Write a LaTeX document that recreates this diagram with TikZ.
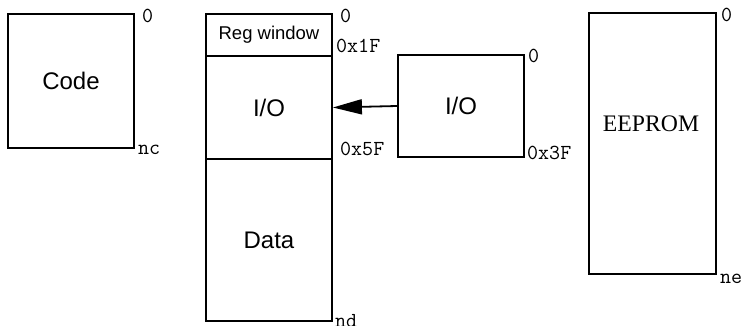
\documentclass[tikz,border=0pt]{standalone}
\usepackage{fontspec}
\setmainfont{Liberation Sans}
\newfontfamily\eepromfont{Liberation Serif}
\usetikzlibrary{arrows.meta}
\begin{document}
\begin{tikzpicture}[x=1pt,y=-1pt,
  box/.style={draw=black, line width=1.8pt, rectangle, inner sep=0pt, font=\fontsize{24}{28}\selectfont},
  lbl/.style={inner sep=0pt, anchor=base west, font=\ttfamily\fontsize{21.4}{24}\selectfont},
  arr/.style={line width=1.8pt, -{Triangle[length=29pt,width=15pt]}}]
\useasboundingbox (0,0) rectangle (744,326);
% Code
\node[box, minimum width=126pt, minimum height=134pt] (code) at (71,81) {Code};
\node[lbl] (c0) at (142,23) {0};
\node[lbl] (cnc) at (138,154) {nc};
% main memory
\node[box, minimum width=126pt, minimum height=42pt, font=\fontsize{18.5}{22}\selectfont] (reg) at (269,35) {Reg window};
\node[box, minimum width=126pt, minimum height=103pt] (io) at (269,107.5) {I/O};
\node[box, minimum width=126pt, minimum height=162pt] (data) at (269,240) {Data};
\node[lbl] (m0) at (340,23) {0};
\node[lbl] (m1f) at (336,53) {0x1F};
\node[lbl] (m5f) at (340,155) {0x5F};
\node[lbl] (mnd) at (335,327) {nd};
% small IO
\node[box, minimum width=126pt, minimum height=102pt] (ios) at (461,106) {I/O};
\node[lbl] (i0) at (528,63) {0};
\node[lbl] (i3f) at (527,159) {0x3F};
% EEPROM
\node[box, minimum width=127pt, minimum height=261pt] (ee) at (652.5,143.5) {};
\node[inner sep=0pt, font=\eepromfont\fontsize{23.7}{28}\selectfont] (eet) at (651,124) {EEPROM};
\node[lbl] (e0) at (721,22) {0};
\node[lbl] (ene) at (720,283) {ne};
% arrow
\draw[arr] (ios.west) -- (io.east);
\end{tikzpicture}
\end{document}
